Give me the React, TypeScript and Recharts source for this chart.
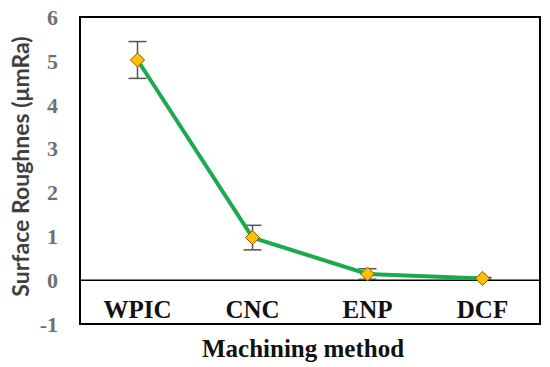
import {
  LineChart,
  Line,
  XAxis,
  YAxis,
  ErrorBar,
  ReferenceLine,
  ReferenceArea,
} from "recharts";

const methods = ["WPIC", "CNC", "ENP", "DCF"];
const roughness = [5.02, 0.97, 0.14, 0.04];
const roughnessErr = [0.42, 0.28, 0.12, 0.02];
const yTicks = [-1, 0, 1, 2, 3, 4, 5, 6];

const data = methods.map((m, i) => ({
  method: m,
  value: roughness[i],
  err: roughnessErr[i],
}));

const serif = "'Liberation Serif', 'Times New Roman', serif";

function Diamond(props: any) {
  const { cx, cy } = props;
  if (cx == null || cy == null) return null;
  const r = 7;
  return (
    <polygon
      points={`${cx},${cy - r} ${cx + r},${cy} ${cx},${cy + r} ${cx - r},${cy}`}
      fill="#FFC000"
      stroke="#7a5a00"
      strokeWidth={1}
    />
  );
}

function MethodTick(props: any) {
  const { x, y, payload } = props;
  return (
    <text
      x={x}
      y={y - 14}
      textAnchor="middle"
      fontFamily={serif}
      fontWeight="bold"
      fontSize={25}
      fill="#111"
    >
      {payload.value}
    </text>
  );
}

function YTitle(props: any) {
  const { viewBox } = props;
  const cx = viewBox.x + 20;
  const cy = viewBox.y + viewBox.height / 2 - 4;
  return (
    <text
      x={cx}
      y={cy}
      transform={`rotate(-90, ${cx}, ${cy})`}
      textAnchor="middle"
      dominantBaseline="central"
      fontFamily="Lato, 'Open Sans', sans-serif"
      fontWeight="bold"
      fontSize={23}
      fill="#404040"
    >
      Surface Roughnes (μmRa)
    </text>
  );
}

export default function App() {
  return (
    <div style={{ position: "absolute", left: 0, top: 0, background: "#fff" }}>
      <LineChart
        width={550}
        height={367}
        data={data}
        margin={{ top: 17, right: 10, left: 0, bottom: 0 }}
      >
        <XAxis
          dataKey="method"
          scale="band"
          height={43}
          axisLine={{ stroke: "#000", strokeWidth: 2 }}
          tickLine={false}
          tick={<MethodTick />}
          interval={0}
          label={{
            value: "Machining method",
            position: "insideBottom",
            offset: 10,
            dx: -7,
            style: {
              fontFamily: serif,
              fontWeight: "bold",
              fontSize: 25,
              fill: "#111",
            },
          }}
        />
        <YAxis
          width={80}
          domain={[-1, 6]}
          ticks={yTicks}
          interval={0}
          axisLine={{ stroke: "#000", strokeWidth: 2 }}
          tickLine={false}
          tickMargin={16}
          tick={{
            fontFamily: serif,
            fontWeight: "bold",
            fontSize: 22,
            fill: "#707070",
          }}
          label={<YTitle />}
        />
        <ReferenceArea
          x1="WPIC"
          x2="DCF"
          y1={-1}
          y2={6}
          fill="none"
          stroke="#000"
          strokeWidth={2}
          ifOverflow="visible"
        />
        <ReferenceLine y={0} stroke="#000" strokeWidth={1.5} />
        <Line
          dataKey="value"
          stroke="#1DAA4F"
          strokeWidth={4}
          dot={<Diamond />}
          activeDot={false}
          isAnimationActive={false}
        >
          <ErrorBar
            dataKey="err"
            width={9}
            stroke="#555"
            strokeWidth={1.5}
          />
        </Line>
      </LineChart>
    </div>
  );
}
